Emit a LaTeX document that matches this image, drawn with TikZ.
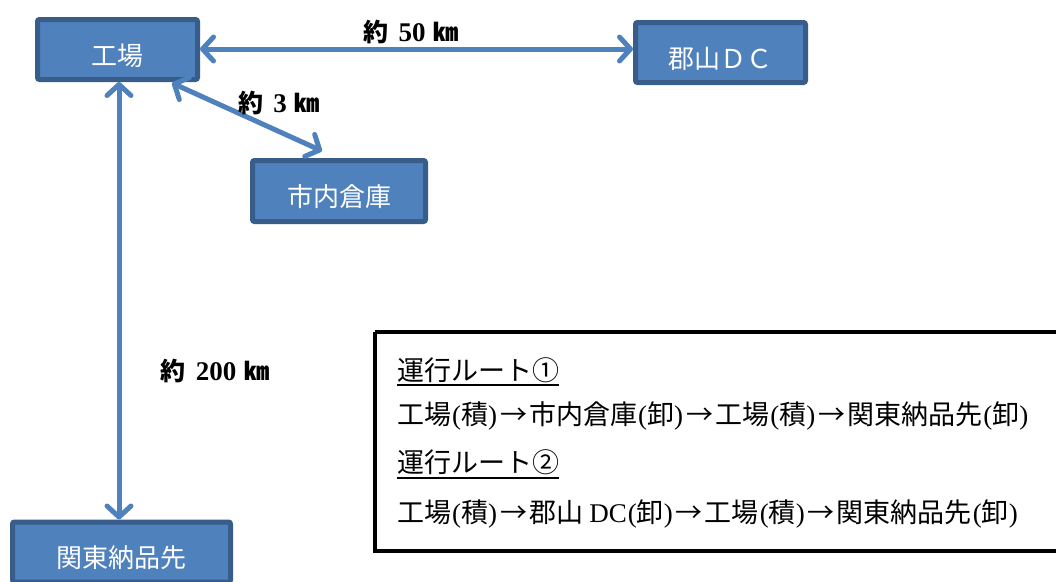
\documentclass[tikz,border=0pt]{standalone}
\usepackage{fontspec}
\setmainfont{Noto Sans CJK JP}
\newfontfamily\cjk{Noto Sans CJK JP}
\newfontfamily\serif{Liberation Serif}
\usetikzlibrary{arrows.meta,calc}
\definecolor{boxfill}{HTML}{4F81BD}
\definecolor{boxline}{HTML}{385D8A}
\newcommand{\lpar}{{\kern1pt\serif(}}
\newcommand{\rpar}{{\serif)\kern1pt}}
\newcommand{\rarr}{\makebox[1.15em]{→}}
\newcommand{\num}[1]{\hspace{10pt}{\serif\bfseries\fontsize{27}{30}\selectfont #1}\hspace{8pt}}
\tikzset{
  place/.style={draw=boxline, fill=boxfill, line width=5pt, rounded corners=2pt,
    inner sep=0pt, text=white, text height=31pt, text depth=0pt,
    font=\cjk\fontsize{26}{30}\selectfont},
  link/.style={draw=boxfill, line width=5pt, line cap=round,
    {Straight Barb[length=11pt,width=24pt,line width=5pt,round]}-{Straight Barb[length=11pt,width=24pt,line width=5pt,round]}},
  dist/.style={font=\cjk\bfseries\fontsize{25}{28}\selectfont, inner sep=0pt},
  route/.style={anchor=west, inner sep=0pt, font=\cjk\fontsize{27}{30}\selectfont},
}
\begin{document}
\begin{tikzpicture}[x=1pt,y=-1pt]
\useasboundingbox (0,0) rectangle (1056,581);
\node[place, minimum width=160pt, minimum height=60pt] (kojo) at (117.5,49.5) {工場};
\node[place, minimum width=170pt, minimum height=60pt] (koriyama) at (720.5,52.5) {郡山ＤＣ};
\node[place, minimum width=173pt, minimum height=61pt] (shinai) at (339,191) {市内倉庫};
\node[place, minimum width=218pt, minimum height=60pt] (kanto) at (121.5,552) {関東納品先};

\coordinate (d1) at ($(kojo.south east)+(-28,1)$);
\coordinate (d2) at ($(shinai.north)+(-17,-7)$);
\draw[link] (kojo.east |- 0,49) -- (koriyama.west |- 0,49);
\draw[link] (d1) -- (d2);
\draw[link] (kojo.south -| 119,0) -- (kanto.north -| 119,0);

\node[dist] (l50) at (411,32) {約\num{50}㎞};
\node[dist] (l3) at (279,103) {約\num{3}㎞};
\node[dist] (l200) at (215,371) {約\num{200}㎞};

\draw[line width=4pt] (375,332) -- (1062,332) (375,332) -- (375,551) -- (1062,551);
\node[route] (r1) at (397,370) {運行ルート①};
\draw[line width=2pt] (r1.west |- 0,385) -- (r1.east |- 0,385);
\node[route] (r1t) at (397,416) {工場\lpar 積\rpar\rarr 市内倉庫\lpar 卸\rpar\rarr 工場\lpar 積\rpar\rarr 関東納品先\lpar 卸\rpar};
\node[route] (r2) at (397,462) {運行ルート②};
\draw[line width=2pt] (r2.west |- 0,478) -- (r2.east |- 0,478);
\node[route] (r2t) at (397,514) {工場\lpar 積\rpar\rarr 郡山 {\serif DC}\lpar 卸\rpar\rarr 工場\lpar 積\rpar\rarr 関東納品先\lpar 卸\rpar};
\end{tikzpicture}
\end{document}
